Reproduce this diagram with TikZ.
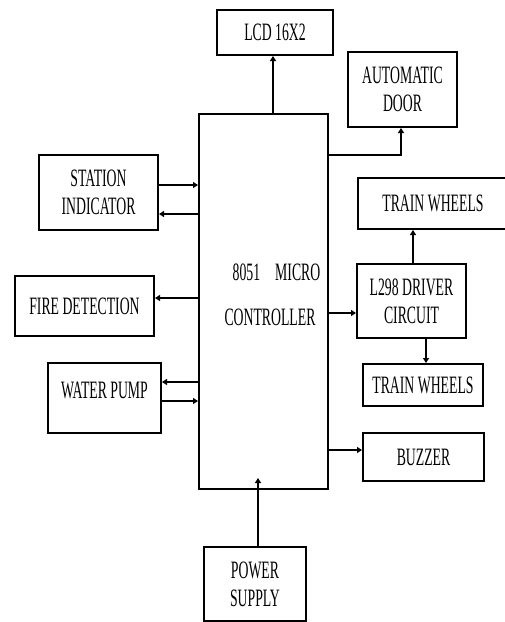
\documentclass[tikz,border=0pt]{standalone}
\usepackage{fontspec}
\setmainfont{Liberation Serif}[FakeStretch=0.55]
\usetikzlibrary{arrows.meta}
\tikzset{
  blk/.style={draw, line width=2pt, inner sep=0pt, align=center, font=\fontsize{25}{28}\selectfont},
  lbl/.style={inner sep=0pt, font=\fontsize{25}{28}\selectfont},
  conn/.style={line width=2pt, -{Triangle[length=5pt,width=6pt]}},
  wire/.style={line width=2pt}
}
\begin{document}
\begin{tikzpicture}[x=1pt,y=-1pt]
\useasboundingbox (0,0) rectangle (505,622);
\clip (0,0) rectangle (505,622);
\node[blk, minimum width=116pt, minimum height=45pt] (lcd) at (275,32.5) {LCD 16X2};
\node[blk, minimum width=109pt, minimum height=75pt] (door) at (402.5,89.5) {AUTOMATIC\\DOOR};
\node[blk, minimum width=129pt, minimum height=375pt] (mc) at (263.5,301.5) {};
\node[lbl] (mct1) at (276.5,272) {8051\hspace{0.6em}MICRO};
\node[lbl] (mct2) at (270,317) {CONTROLLER};
\node[blk, minimum width=119pt, minimum height=75pt] (st) at (98.5,192.5) {STATION\\INDICATOR};
\node[blk, minimum width=150pt, minimum height=51pt] (tw1) at (433,203.5) {TRAIN WHEELS};
\node[blk, minimum width=139pt, minimum height=60pt] (fire) at (84.5,306) {FIRE DETECTION};
\node[blk, minimum width=109pt, minimum height=74pt] (l298) at (411.5,301) {L298 DRIVER\\CIRCUIT};
\node[blk, minimum width=120pt, minimum height=42pt] (tw2) at (423,385) {TRAIN WHEELS};
\node[blk, minimum width=113pt, minimum height=70pt] (pump) at (104.5,398) {};
\node[lbl] (pumpt) at (104.5,390) {WATER PUMP};
\node[blk, minimum width=121pt, minimum height=48pt] (buz) at (423.5,457) {BUZZER};
\node[blk, minimum width=102pt, minimum height=74pt] (ps) at (255,584) {POWER\\SUPPLY};
% connectors
\draw[conn] (mc.north -| lcd.south) ++(-2,0) coordinate (a1) -- (a1 |- lcd.south);
\coordinate (d1) at (mc.east |- 0,155);
\coordinate (d2) at (401,155);
\draw[conn] (d1) -- (d2) -- (d2 |- door.south);
\draw[conn] (st.east |- 0,185) -- (mc.west |- 0,185);
\draw[conn] (mc.west |- 0,214) -- (st.east |- 0,214);
\draw[conn] (mc.west |- 0,298) -- (fire.east |- 0,298);
\draw[conn] (mc.west |- 0,382) -- (pump.east |- 0,382);
\draw[conn] (pump.east |- 0,401) -- (mc.west |- 0,401);
\draw[conn] (mc.east |- 0,313) -- (l298.west |- 0,313);
\draw[conn] (l298.north -| 413,0) -- (tw1.south -| 413,0);
\draw[conn] (l298.south -| 426,0) -- (tw2.north -| 426,0);
\draw[conn] (mc.east |- 0,450) -- (buz.west |- 0,450);
\coordinate (p1) at (258,478);
\draw[conn] (ps.north -| p1) -- (p1);
\end{tikzpicture}
\end{document}
